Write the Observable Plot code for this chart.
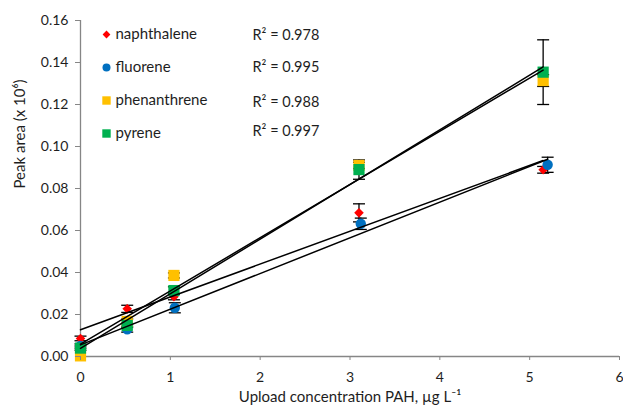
<!DOCTYPE html>
<html><head><meta charset="utf-8">
<script src="https://cdn.jsdelivr.net/npm/d3@7"></script>
<script src="https://cdn.jsdelivr.net/npm/@observablehq/plot@0.6"></script>
<style>body{margin:0;background:#fff;} #chart{width:623px;height:409px;}</style>
</head><body><div id="chart"></div>
<script>
// ---- data ----
const series = ["naphthalene", "fluorene", "phenanthrene", "pyrene"];
const r2Labels = ["R² = 0.978", "R² = 0.995", "R² = 0.988", "R² = 0.997"];
const colors = ["#FF0000", "#0070C0", "#FFC000", "#00B050"];
const xNaph = [0, 0.52, 1.04, 3.10, 5.15];
const yNaph = [0.0086, 0.0227, 0.0285, 0.0684, 0.0889];
const eNaph = [0.0011, 0.0017, 0.0015, 0.0043, 0.0016];
const xFluo = [0, 0.52, 1.05, 3.12, 5.2];
const yFluo = [0.0050, 0.0130, 0.0232, 0.0632, 0.0913];
const eFluo = [0.0010, 0.0014, 0.0024, 0.0027, 0.0036];
const xPhen = [0, 0.52, 1.04, 3.10, 5.15];
const yPhen = [0.0003, 0.0167, 0.0386, 0.0910, 0.1314];
const ePhen = [0.0000, 0.0012, 0.0012, 0.0015, 0.0028];
const xPyr = [0, 0.52, 1.04, 3.10, 5.15];
const yPyr = [0.0040, 0.0148, 0.0314, 0.0890, 0.1354];
const ePyr = [0.0010, 0.0010, 0.0018, 0.0046, 0.0154];
const xTicks = [0, 1, 2, 3, 4, 5, 6];
const yTicks = [0, 0.02, 0.04, 0.06, 0.08, 0.10, 0.12, 0.14, 0.16];
const xLabel = "Upload concentration PAH, µg L⁻¹";
const yLabel = "Peak area (x 10⁶)";

const xs = [xNaph, xFluo, xPhen, xPyr];
const ys = [yNaph, yFluo, yPhen, yPyr];
const es = [eNaph, eFluo, ePhen, ePyr];
const rows = [];
series.forEach((s, i) => xs[i].forEach((x, j) => rows.push({series: s, idx: i, x, y: ys[i][j], e: es[i][j]})));

// custom symbols (size = pi r^2)
const rad = size => Math.sqrt(size / Math.PI);
const diamondSym = {draw(c, size) { const h = rad(size); c.moveTo(0, -h); c.lineTo(h, 0); c.lineTo(0, h); c.lineTo(-h, 0); c.closePath(); }};
const squareSym = {draw(c, size) { const h = rad(size); c.rect(-h, -h, 2 * h, 2 * h); }};
const circleSym = {draw(c, size) { const h = rad(size); c.moveTo(h, 0); c.arc(0, 0, h, 0, 2 * Math.PI); }};
const capSym = {draw(c, size) { const h = rad(size); c.moveTo(-h, 0); c.lineTo(h, 0); }};
const symbols = [diamondSym, circleSym, squareSym, squareSym];
const dataR = [4.8, 5.2, 5.6, 5.6];
const legR = [3.9, 4.0, 4.2, 4.2];

const gray = "#868686";
const txt = "#1e1e1e";
const marks = [];
// error bars
marks.push(Plot.ruleX(rows.filter(d => d.e > 0), {x: "x", y1: d => d.y - d.e, y2: d => d.y + d.e, stroke: "#000", strokeWidth: 1.3}));
marks.push(Plot.dot(rows.filter(d => d.e > 0), {x: "x", y: d => d.y + d.e, symbol: capSym, r: 6, stroke: "#000", strokeWidth: 1.3, fill: "none"}));
marks.push(Plot.dot(rows.filter(d => d.e > 0), {x: "x", y: d => d.y - d.e, symbol: capSym, r: 6, stroke: "#000", strokeWidth: 1.3, fill: "none"}));
// axes lines
marks.push(Plot.ruleY([0], {stroke: gray, strokeWidth: 1.3}));
marks.push(Plot.ruleX([0], {stroke: gray, strokeWidth: 1.3}));
// points
series.forEach((s, i) => {
  marks.push(Plot.dot(rows.filter(d => d.idx === i), {x: "x", y: "y", symbol: symbols[i], r: dataR[i], fill: colors[i], stroke: "none"}));
});
// regression lines
series.forEach((s, i) => {
  marks.push(Plot.linearRegressionY(rows.filter(d => d.idx === i), {x: "x", y: "y", ci: 0, stroke: "#000", strokeWidth: 1.5}));
});
// legend
const legDy = [14, 47, 80, 113];
const r2Dy = [15, 47, 82, 111];
series.forEach((s, i) => {
  marks.push(Plot.dot([s], {frameAnchor: "top-left", dx: 26, dy: legDy[i], symbol: symbols[i], r: legR[i], fill: colors[i], stroke: "none"}));
  marks.push(Plot.text([s], {frameAnchor: "top-left", dx: 35, dy: legDy[i], textAnchor: "start", lineAnchor: "middle", fill: txt, fontSize: 15}));
  marks.push(Plot.text([r2Labels[i]], {frameAnchor: "top-left", dx: 172, dy: r2Dy[i], textAnchor: "start", lineAnchor: "middle", fill: txt, fontSize: 14.5}));
});
// axes
marks.push(Plot.axisY({ticks: yTicks, tickFormat: d3.format(".2f"), tickSize: 5, tickPadding: 7, stroke: gray, fill: txt, fontSize: 14, label: null}));
marks.push(Plot.axisX({ticks: xTicks, tickFormat: d3.format("d"), tickSize: 4, tickPadding: 12, stroke: gray, fill: txt, fontSize: 14, label: null}));
marks.push(Plot.text([yLabel], {frameAnchor: "left", dx: -60, rotate: -90, fill: txt, fontSize: 15}));
marks.push(Plot.text([xLabel], {frameAnchor: "bottom", dy: 45, fill: txt, fontSize: 15}));

const chart = Plot.plot({
  width: 623, height: 409,
  marginLeft: 80, marginRight: 4, marginTop: 20, marginBottom: 53,
  x: {domain: [0, 6]},
  y: {domain: [0, 0.16]},
  style: {fontFamily: "Lato, 'Open Sans', sans-serif", fontSize: "14px", background: "#fff", overflow: "visible"},
  marks
});
document.getElementById("chart").appendChild(chart);
</script></body></html>
